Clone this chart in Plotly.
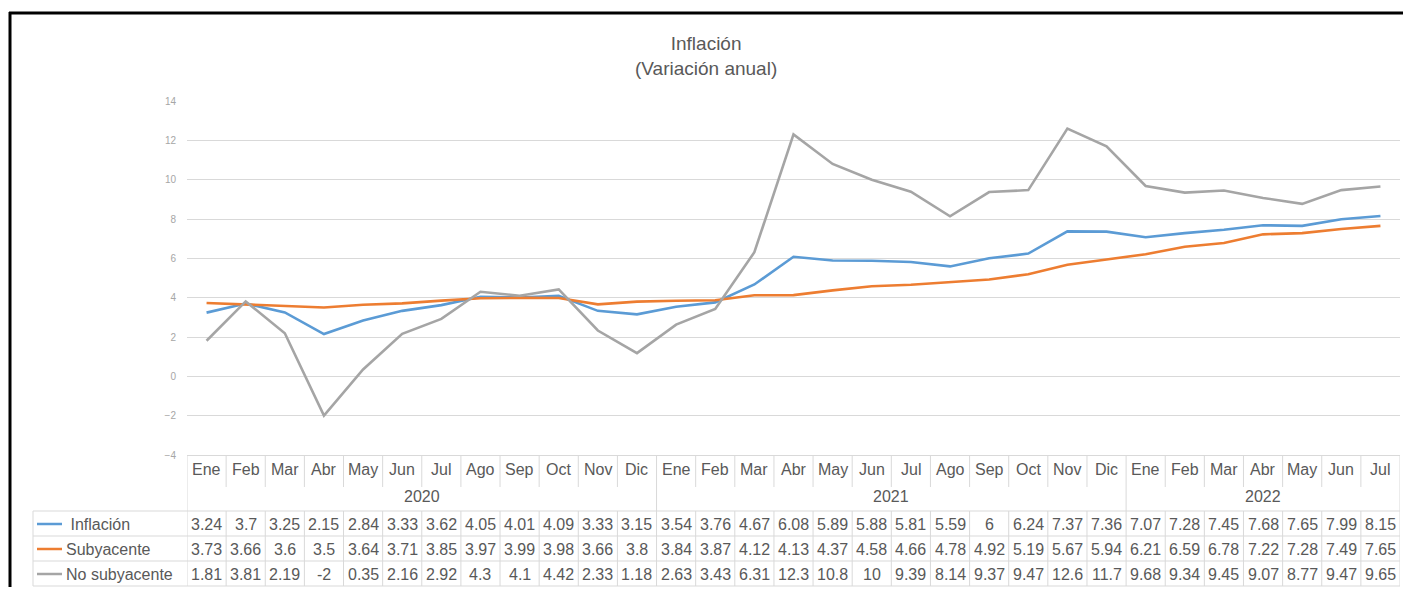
import plotly.graph_objects as go

# ---- data ----
months = ["Ene", "Feb", "Mar", "Abr", "May", "Jun", "Jul", "Ago", "Sep", "Oct", "Nov", "Dic"]
month_labels = months + months + months[:7]
years = ["2020", "2021", "2022"]
year_counts = [12, 12, 7]

inflacion = [3.24, 3.7, 3.25, 2.15, 2.84, 3.33, 3.62, 4.05, 4.01, 4.09, 3.33, 3.15,
             3.54, 3.76, 4.67, 6.08, 5.89, 5.88, 5.81, 5.59, 6, 6.24, 7.37, 7.36,
             7.07, 7.28, 7.45, 7.68, 7.65, 7.99, 8.15]
subyacente = [3.73, 3.66, 3.6, 3.5, 3.64, 3.71, 3.85, 3.97, 3.99, 3.98, 3.66, 3.8,
              3.84, 3.87, 4.12, 4.13, 4.37, 4.58, 4.66, 4.78, 4.92, 5.19, 5.67, 5.94,
              6.21, 6.59, 6.78, 7.22, 7.28, 7.49, 7.65]
no_subyacente = [1.81, 3.81, 2.19, -2, 0.35, 2.16, 2.92, 4.3, 4.1, 4.42, 2.33, 1.18,
                 2.63, 3.43, 6.31, 12.3, 10.8, 10, 9.39, 8.14, 9.37, 9.47, 12.6, 11.7,
                 9.68, 9.34, 9.45, 9.07, 8.77, 9.47, 9.65]

series_names = ["\u00a0Inflación", "Subyacente", "No subyacente"]
series_values = [inflacion, subyacente, no_subyacente]
series_colors = ["#5B9BD5", "#ED7D31", "#A5A5A5"]

# ---- layout helpers (page pixel -> paper) ----
PAGE_W, PAGE_H = 1411, 595
OFF = 8  # body margin of the html page
FIG_W, FIG_H = PAGE_W - 2 * OFF, PAGE_H - 2 * OFF  # keep the page from scrolling
PL, PR, PT, PB = 187, OFF + FIG_W - 3, 101, 455  # plot area in page pixels
FONT = "Liberation Sans, Arial, sans-serif"
TXT = "#595959"
GRID = "#D9D9D9"
TSIZE = 16


def fx(px):
    return (px - PL) / (PR - PL)


def fy(py):
    return (PB - py) / (PB - PT)


x_idx = list(range(len(month_labels)))

fig = go.Figure()
for name, vals, col in zip(series_names, series_values, series_colors):
    fig.add_trace(go.Scatter(
        x=x_idx, y=vals, mode="lines", name=name.strip(),
        line=dict(color=col, width=2.6), showlegend=False
    ))

shapes = []
annotations = []

# table rows
row_lines = [511, 536, 561, 586]
row_centers = [524, 549, 574]

# vertical cell borders
year_bounds = [0]
for c in year_counts:
    year_bounds.append(year_bounds[-1] + c)
for b in range(len(month_labels) + 1):
    xb = b - 0.5
    if b in year_bounds:
        shapes.append(dict(type="line", xref="x", yref="paper", x0=xb, x1=xb,
                           y0=fy(PB), y1=fy(row_lines[-1]), line=dict(color=GRID, width=1)))
    else:
        shapes.append(dict(type="line", xref="x", yref="paper", x0=xb, x1=xb,
                           y0=fy(PB), y1=fy(487), line=dict(color=GRID, width=1)))
        shapes.append(dict(type="line", xref="x", yref="paper", x0=xb, x1=xb,
                           y0=fy(row_lines[0]), y1=fy(row_lines[-1]), line=dict(color=GRID, width=1)))

# horizontal cell borders
for ry in row_lines:
    shapes.append(dict(type="line", xref="paper", yref="paper", x0=fx(33), x1=1,
                       y0=fy(ry), y1=fy(ry), line=dict(color=GRID, width=1)))
shapes.append(dict(type="line", xref="paper", yref="paper", x0=fx(33), x1=fx(33),
                   y0=fy(row_lines[0]), y1=fy(row_lines[-1]), line=dict(color=GRID, width=1)))

# month and year labels
for i, m in enumerate(month_labels):
    annotations.append(dict(x=i, y=fy(470), xref="x", yref="paper", text=m, showarrow=False,
                            font=dict(family=FONT, size=TSIZE, color=TXT), yanchor="middle"))
start = 0
for yr, c in zip(years, year_counts):
    annotations.append(dict(x=start + (c - 1) / 2, y=fy(496), xref="x", yref="paper", text=yr,
                            showarrow=False, font=dict(family=FONT, size=TSIZE, color=TXT),
                            yanchor="middle"))
    start += c

# data rows with legend keys
for name, vals, col, ry in zip(series_names, series_values, series_colors, row_centers):
    shapes.append(dict(type="line", xref="paper", yref="paper", x0=fx(37), x1=fx(62),
                       y0=fy(ry), y1=fy(ry), line=dict(color=col, width=2.5)))
    annotations.append(dict(x=fx(64), y=fy(ry), xref="paper", yref="paper", text=name,
                            showarrow=False, xanchor="left", yanchor="middle",
                            font=dict(family=FONT, size=TSIZE, color=TXT)))
    for i, v in enumerate(vals):
        annotations.append(dict(x=i, y=fy(ry), xref="x", yref="paper", text=f"{v:g}",
                                showarrow=False, yanchor="middle",
                                font=dict(family=FONT, size=TSIZE, color=TXT)))

# title
annotations.append(dict(x=fx(PAGE_W / 2), y=fy(56), xref="paper", yref="paper",
                        text="Inflación<br>(Variación anual)", showarrow=False,
                        yanchor="middle", font=dict(family=FONT, size=19, color=TXT)))

# black frame of the screenshot
shapes.append(dict(type="line", xref="paper", yref="paper", x0=fx(9), x1=fx(OFF + FIG_W),
                   y0=fy(13), y1=fy(13), line=dict(color="black", width=3)))
shapes.append(dict(type="line", xref="paper", yref="paper", x0=fx(10), x1=fx(10),
                   y0=fy(12), y1=fy(OFF + FIG_H), line=dict(color="black", width=3)))

fig.update_layout(
    width=FIG_W, height=FIG_H,
    margin=dict(l=PL - OFF, r=OFF + FIG_W - PR, t=PT - OFF, b=FIG_H + OFF - PB),
    paper_bgcolor="white", plot_bgcolor="white",
    shapes=shapes, annotations=annotations,
    font=dict(family=FONT, color=TXT),
)
fig.update_xaxes(range=[-0.5, len(month_labels) - 0.5], showticklabels=False,
                 showgrid=False, zeroline=False, showline=True, linecolor=GRID, linewidth=1)
fig.update_yaxes(range=[-4, 14], dtick=2, gridcolor=GRID, gridwidth=1, zeroline=False,
                 showline=False, ticklabelstandoff=10,
                 tickfont=dict(family=FONT, size=10, color="#A6A6A6"))

fig.write_html("out.html")
